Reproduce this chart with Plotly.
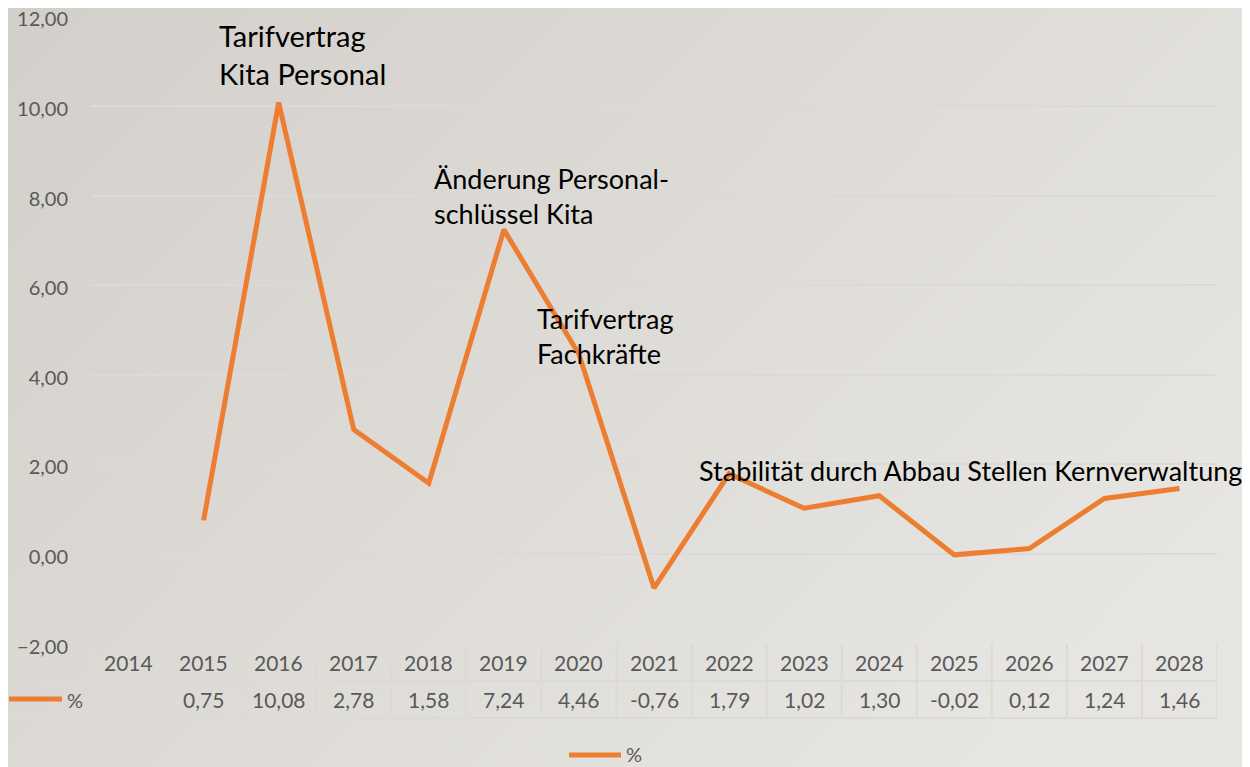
import base64
import plotly.graph_objects as go

# ---- data ----
years = ["2014", "2015", "2016", "2017", "2018", "2019", "2020", "2021",
         "2022", "2023", "2024", "2025", "2026", "2027", "2028"]
pct = [None, 0.75, 10.08, 2.78, 1.58, 7.24, 4.46, -0.76,
       1.79, 1.02, 1.30, -0.02, 0.12, 1.24, 1.46]
series_name = "%"
y_ticks = [-2, 0, 2, 4, 6, 8, 10, 12]
notes = [
    ("Tarifvertrag<br>Kita Personal", 217, 16, 29),
    ("Änderung Personal-<br>schlüssel Kita", 432, 160, 27),
    ("Tarifvertrag<br>Fachkräfte", 535, 300, 27),
    ("Stabilität durch Abbau Stellen Kernverwaltung", 697, 452, 27),
]

# page has an 8px body margin; work in reference pixels and shift
OFF = 8
W, H = 1250 - OFF, 767 - OFF
PL, PR, PT, PB = 91, 1217, 16, 644          # plot area in reference pixels
L, R, T, B = PL - OFF, (W + OFF) - PR, PT - OFF, (H + OFF) - PB
PW, PH = PR - PL, PB - PT
ORANGE = "#ED7D31"
GRID = "#dcdad6"
TXT = "#595959"
FONT = "Lato"


def xp(px):
    return (px - PL) / PW


def yp(py):
    return (PB - py) / PH


def fmt(v):
    return "" if v is None else f"{v:.2f}".replace(".", ",")


svg = (
    "<svg xmlns='http://www.w3.org/2000/svg' width='1250' height='767' "
    "preserveAspectRatio='none'><defs><linearGradient id='g' x1='0' y1='0' "
    "x2='1' y2='0.6'><stop offset='0' stop-color='#d3d0cb'/>"
    "<stop offset='1' stop-color='#e7e5e1'/></linearGradient></defs>"
    "<rect width='1250' height='767' fill='url(#g)'/></svg>"
)
bg_src = "data:image/svg+xml;base64," + base64.b64encode(svg.encode()).decode()

fig = go.Figure()
fig.add_trace(go.Scatter(
    x=years, y=pct, mode="lines", name=series_name,
    line=dict(color=ORANGE, width=5), connectgaps=False,
    showlegend=False, hoverinfo="x+y",
))

shapes = []
annotations = []

# table grid
n = len(years)
y_hdr_top, y_mid, y_bot = 644, 681, 718
for i in range(n + 1):
    shapes.append(dict(type="line", xref="x", yref="paper",
                       x0=i - 0.5, x1=i - 0.5, y0=yp(y_hdr_top), y1=yp(y_bot),
                       line=dict(color=GRID, width=2)))
for yy in (y_mid, y_bot):
    shapes.append(dict(type="line", xref="paper", yref="paper",
                       x0=xp(2), x1=1, y0=yp(yy), y1=yp(yy),
                       line=dict(color=GRID, width=2)))
shapes.append(dict(type="line", xref="paper", yref="paper",
                   x0=xp(2), x1=xp(2), y0=yp(y_mid), y1=yp(y_bot),
                   line=dict(color=GRID, width=2)))

# table text
for i, (yr, v) in enumerate(zip(years, pct)):
    annotations.append(dict(xref="x", yref="paper", x=i, y=yp((y_hdr_top + y_mid) / 2),
                            text=yr, showarrow=False, xanchor="center", yanchor="middle",
                            font=dict(family=FONT, size=21, color=TXT)))
    annotations.append(dict(xref="x", yref="paper", x=i, y=yp((y_mid + y_bot) / 2),
                            text=fmt(v), showarrow=False, xanchor="center", yanchor="middle",
                            font=dict(family=FONT, size=21, color=TXT)))

# legend key in table
shapes.append(dict(type="line", xref="paper", yref="paper",
                   x0=xp(9), x1=xp(62), y0=yp(699), y1=yp(699),
                   line=dict(color=ORANGE, width=5)))
annotations.append(dict(xref="paper", yref="paper", x=xp(65), y=yp(699.5),
                        text=series_name, showarrow=False, xanchor="left", yanchor="middle",
                        font=dict(family=FONT, size=20, color=TXT)))
# bottom legend
shapes.append(dict(type="line", xref="paper", yref="paper",
                   x0=xp(569), x1=xp(621), y0=yp(755), y1=yp(755),
                   line=dict(color=ORANGE, width=5)))
annotations.append(dict(xref="paper", yref="paper", x=xp(624), y=yp(754),
                        text=series_name, showarrow=False, xanchor="left", yanchor="middle",
                        font=dict(family=FONT, size=20, color=TXT)))

# annotations on chart
for text, px, py, size in notes:
    annotations.append(dict(xref="paper", yref="paper", x=xp(px), y=yp(py),
                            text=text, showarrow=False, xanchor="left", yanchor="top",
                            align="left", font=dict(family=FONT, size=size, color="#000000")))

fig.update_layout(
    width=W, height=H,
    margin=dict(l=L, r=R, t=T, b=B, pad=0, autoexpand=False),
    paper_bgcolor="#dddad6",
    plot_bgcolor="rgba(0,0,0,0)",
    separators=",.",
    showlegend=False,
    shapes=shapes,
    annotations=annotations,
    images=[dict(source=bg_src, xref="paper", yref="paper",
                 x=xp(OFF), y=yp(OFF), sizex=W / PW, sizey=H / PH,
                 xanchor="left", yanchor="top", sizing="stretch", layer="below")],
    xaxis=dict(type="category", range=[-0.5, n - 0.5], showticklabels=False,
               showgrid=False, zeroline=False, showline=False, fixedrange=True,
               automargin=False),
    yaxis=dict(range=[-2.01, 12.01], tickvals=y_ticks, tickformat=".2f",
               showgrid=True, gridcolor=GRID, gridwidth=2, zeroline=False,
               showline=False, ticks="", ticklabelstandoff=22, automargin=False,
               ticklabeloverflow="allow", ticklabelshift=3,
               tickfont=dict(family=FONT, size=20, color=TXT), fixedrange=True),
)

fig.write_html("out.html")
